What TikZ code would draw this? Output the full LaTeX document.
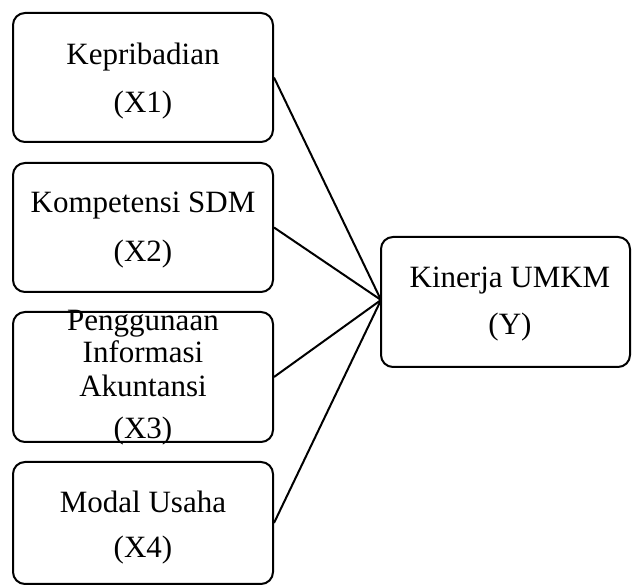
\documentclass[tikz,border=0pt]{standalone}
\usepackage{fontspec}
\setmainfont{Liberation Serif}
\begin{document}
\begin{tikzpicture}[x=1pt,y=1pt,
  box/.style={draw=black,line width=2pt,rounded corners=12pt,minimum width=260pt,minimum height=129pt,inner sep=0pt},
  txt/.style={anchor=base,inner sep=0pt,font=\fontsize{31}{37}\selectfont},
  link/.style={draw=black,line width=2pt}]
\useasboundingbox (0,0) rectangle (632,586);
% boxes (y = 586 - pixel y)
\node[box] (x1) at (143,508.5) {};
\node[box] (x2) at (143,358.5) {};
\node[box,minimum height=130pt] (x3) at (143,209) {};
\node[box,minimum height=122pt] (x4) at (143,63) {};
\node[box,minimum width=249pt,minimum height=130pt] (y) at (505.5,284) {};
% texts
\node[txt] (t1a) at (143,521) {Kepribadian};
\node[txt] (t1b) at (143,473) {(X1)};
\node[txt] (t2a) at (143,373) {Kompetensi SDM};
\node[txt] (t2b) at (143,324) {(X2)};
\node[txt] (t3a) at (143,255.5) {Penggunaan};
\node[txt] (t3b) at (143,223) {Informasi};
\node[txt] (t3c) at (143,189) {Akuntansi};
\node[txt] (t3d) at (143,147.5) {(X3)};
\node[txt] (t4a) at (143,73) {Modal Usaha};
\node[txt] (t4b) at (143,28) {(X4)};
\node[txt] (tya) at (510,298) {Kinerja UMKM};
\node[txt] (tyb) at (510,251) {(Y)};
% connectors
\coordinate (m) at (381,286);
\draw[link] (x1.east) -- (m);
\draw[link] (x2.east) -- (m);
\draw[link] (x3.east) -- (m);
\draw[link] (x4.east) -- (m);
\end{tikzpicture}
\end{document}
